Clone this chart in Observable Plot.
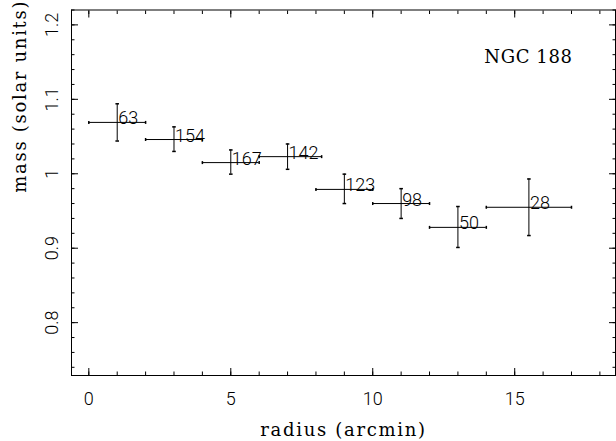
<!DOCTYPE html>
<html><head><meta charset="utf-8">
<script src="https://cdn.jsdelivr.net/npm/d3@7"></script>
<script src="https://cdn.jsdelivr.net/npm/@observablehq/plot@0.6"></script>
<style>body{margin:0;background:#fff}</style>
</head><body><div id="chart"></div>
<script>
const radius   = [1, 3, 5, 7, 9, 11, 13, 15.5];
const radiusLo = [0, 2, 4, 6, 8, 10, 12, 14];
const radiusHi = [2, 4, 6, 8.2, 10, 12, 14, 17];
const mass     = [1.069, 1.046, 1.015, 1.023, 0.979, 0.960, 0.928, 0.955];
const massLo   = [1.044, 1.030, 0.9995, 1.006, 0.960, 0.940, 0.901, 0.917];
const massHi   = [1.094, 1.063, 1.032, 1.040, 0.9995, 0.980, 0.956, 0.993];
const counts   = ["63", "154", "167", "142", "123", "98", "50", "28"];

const xMajor = [0, 5, 10, 15];
const xTickLabels = ["0", "5", "10", "15"];
const xMinor = d3.range(0, 19);
const yMajor = [0.8, 0.9, 1.0, 1.1, 1.2];
const yTickLabels = ["0.8", "0.9", "1", "1.1", "1.2"];
const yMinor = d3.range(37, 62).map(i => i * 0.02);

const xTitle = "radius (arcmin)";
const yTitle = "mass (solar units)";
const annotation = "NGC 188";

const data = radius.map((r, i) => ({
  r, rlo: radiusLo[i], rhi: radiusHi[i],
  m: mass[i], mlo: massLo[i], mhi: massHi[i], n: counts[i]
}));

const hcap = {draw(ctx, size) { const r = Math.sqrt(size / Math.PI); ctx.moveTo(-r, 0); ctx.lineTo(r, 0); }};
const vcap = {draw(ctx, size) { const r = Math.sqrt(size / Math.PI); ctx.moveTo(0, -r); ctx.lineTo(0, r); }};

const sans = "Roboto, 'DejaVu Sans', sans-serif";
const serif = "'DejaVu Serif', serif";
const none = () => "";

const chart = Plot.plot({
  width: 616,
  height: 441,
  marginLeft: 71,
  marginRight: 1,
  marginTop: 9.5,
  marginBottom: 66,
  style: {background: "#fff", color: "#000", fontFamily: sans},
  x: {domain: [-0.61, 18.55], label: null, axis: null},
  y: {domain: [0.729, 1.22], label: null, axis: null},
  marks: [
    Plot.frame({stroke: "#000"}),
    // minor ticks
    Plot.axisX(xMinor, {anchor: "bottom", tickSize: -3.5, tickFormat: none, label: null}),
    Plot.axisX(xMinor, {anchor: "top", tickSize: -3.5, tickFormat: none, label: null}),
    Plot.axisY(yMinor, {anchor: "left", tickSize: -3.5, tickFormat: none, label: null}),
    Plot.axisY(yMinor, {anchor: "right", tickSize: -3.5, tickFormat: none, label: null}),
    // major ticks
    Plot.axisX(xMajor, {anchor: "top", tickSize: -7, tickFormat: none, label: null}),
    Plot.axisY(yMajor, {anchor: "right", tickSize: -7, tickFormat: none, label: null}),
    Plot.axisX(xMajor, {anchor: "bottom", tickSize: -7, tickPadding: 24, tickFormat: (d, i) => xTickLabels[i],
      fontSize: 18, fontWeight: 300, fontFamily: sans, label: null}),
    Plot.axisY(yMajor, {anchor: "left", tickSize: -7, tickRotate: -90, tickPadding: 21, tickFormat: (d, i) => yTickLabels[i],
      fontSize: 18, fontWeight: 300, fontFamily: sans, label: null}),
    // error bars
    Plot.ruleY(data, {y: "m", x1: "rlo", x2: "rhi", stroke: "#000", strokeWidth: 1}),
    Plot.ruleX(data, {x: "r", y1: "mlo", y2: "mhi", stroke: "#000", strokeWidth: 1}),
    Plot.dot(data, {x: "r", y: "mlo", symbol: hcap, r: 1.8, stroke: "#000", fill: "none"}),
    Plot.dot(data, {x: "r", y: "mhi", symbol: hcap, r: 1.8, stroke: "#000", fill: "none"}),
    Plot.dot(data, {x: "rlo", y: "m", symbol: vcap, r: 1.5, stroke: "#000", fill: "none"}),
    Plot.dot(data, {x: "rhi", y: "m", symbol: vcap, r: 1.5, stroke: "#000", fill: "none"}),
    // counts
    Plot.text(data, {x: "r", y: "m", text: "n", textAnchor: "start", lineAnchor: "bottom", dx: 1, dy: 2,
      fontSize: 18, fontWeight: 300, fontFamily: sans, fill: "#000"}),
    // titles
    Plot.text([xTitle], {frameAnchor: "bottom", dy: 55, lineAnchor: "middle", fontSize: 18, fontFamily: serif, fill: "#000"}),
    Plot.text([yTitle], {frameAnchor: "left", rotate: -90, dx: -51, lineAnchor: "middle", fontSize: 18, fontFamily: serif, fill: "#000"}),
    Plot.text([annotation], {frameAnchor: "top-right", dx: -43, dy: 47.5, textAnchor: "end", lineAnchor: "middle", fontSize: 18, fontFamily: serif, fill: "#000"})
  ]
});
d3.select(chart).selectAll("text").each(function() {
  const t = this.textContent;
  if (t === xTitle || t === yTitle) this.style.letterSpacing = "1.7px";
  if (t === annotation) this.style.letterSpacing = "0.6px";
});
document.getElementById("chart").appendChild(chart);
</script>
</body></html>
